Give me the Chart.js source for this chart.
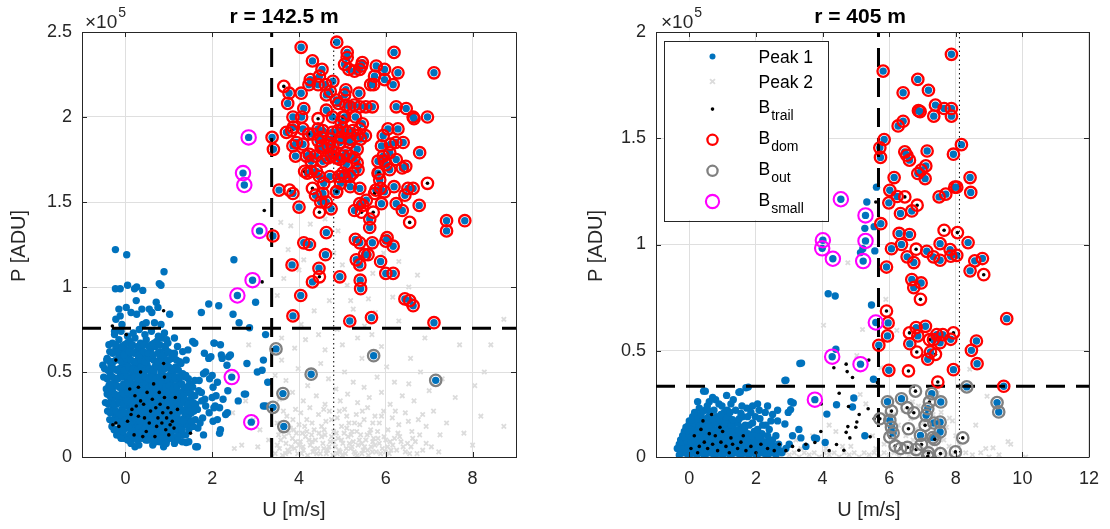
<!DOCTYPE html>
<html lang="en">
<head>
<meta charset="UTF-8">
<title>Peak classes vs wind speed</title>
<script src="https://cdn.jsdelivr.net/npm/chart.js@4.4.0/dist/chart.umd.min.js"></script>
<style>
  body { margin: 0; background: #fff; overflow: hidden; }
  #wrap { position: relative; width: 1110px; height: 529px; }
  .panel { position: absolute; top: 0; width: 555px; height: 529px; }
</style>
</head>
<body>
<div id="wrap">
  <div class="panel" style="left:0"><canvas id="leftChart" width="555" height="529"></canvas></div>
  <div class="panel" style="left:555px"><canvas id="rightChart" width="555" height="529"></canvas></div>
</div>

<script>
// ---------- r = 142.5 m ----------  values are [U (m/s), P (x1e5 ADU)]
const xTicksL = [0, 2, 4, 6, 8];
const yTicksL = [0, 0.5, 1, 1.5, 2, 2.5];
const uCutL = 3.37, pCutL = 0.757, uDotL = 4.8;

const peak1CloudL = [
  [0.12,0.09],[0.31,0.07],[0.47,0.1],[0.63,0.07],[0.79,0.09],[0.96,0.1],[1.13,0.08],[1.31,0.09],[-0.04,0.11],[0.56,0.12],[0.22,0.06],[0.88,0.06],
  [-0.16,0.13],[0.01,0.12],[0.12,0.14],[0.23,0.11],[0.34,0.13],[0.41,0.12],[0.51,0.14],[0.59,0.11],[0.67,0.13],[0.74,0.12],[0.83,0.14],[0.91,0.11],
  [0.99,0.13],[1.06,0.15],[1.16,0.12],[1.25,0.14],[1.39,0.13],[0.27,0.15],[0.71,0.15],[-0.07,0.15],
  [-0.31,0.18],[-0.21,0.16],[-0.11,0.19],[-0.02,0.17],[0.06,0.2],[0.14,0.16],[0.2,0.18],[0.28,0.19],[0.35,0.16],[0.42,0.18],[0.49,0.2],[0.55,0.17],
  [0.61,0.19],[0.68,0.16],[0.75,0.18],[0.83,0.2],[0.9,0.17],[0.96,0.19],[1.03,0.16],[1.1,0.18],[1.18,0.2],[1.26,0.17],[1.35,0.19],[1.46,0.16],
  [1.56,0.18],[0.38,0.2],[0.72,0.2],[1.0,0.21],
  [-0.36,0.22],[-0.23,0.24],[-0.12,0.21],[-0.04,0.23],[0.04,0.25],[0.11,0.22],[0.18,0.24],[0.25,0.21],[0.31,0.23],[0.37,0.25],[0.44,0.22],[0.5,0.24],
  [0.57,0.21],[0.63,0.23],[0.7,0.25],[0.77,0.22],[0.84,0.24],[0.9,0.21],[0.97,0.23],[1.04,0.25],[1.11,0.22],[1.19,0.24],[1.27,0.21],[1.36,0.23],
  [1.47,0.25],[1.61,0.22],[0.08,0.21],[0.6,0.26],[0.93,0.26],
  [-0.41,0.27],[-0.28,0.29],[-0.17,0.26],[-0.08,0.28],[0.0,0.3],[0.07,0.26],[0.14,0.28],[0.21,0.3],[0.28,0.27],[0.34,0.29],[0.41,0.26],[0.47,0.28],
  [0.54,0.3],[0.6,0.27],[0.67,0.29],[0.73,0.26],[0.8,0.28],[0.87,0.3],[0.94,0.27],[1.01,0.29],[1.08,0.26],[1.16,0.28],[1.24,0.3],[1.32,0.27],
  [1.42,0.29],[1.52,0.26],[1.66,0.28],[0.5,0.25],[0.24,0.26],
  [-0.46,0.32],[-0.32,0.34],[-0.2,0.31],[-0.1,0.33],[-0.01,0.35],[0.08,0.31],[0.16,0.33],[0.23,0.35],[0.3,0.32],[0.38,0.34],[0.45,0.31],[0.52,0.33],
  [0.58,0.35],[0.65,0.32],[0.72,0.34],[0.79,0.31],[0.86,0.33],[0.93,0.35],[1.0,0.32],[1.07,0.34],[1.15,0.31],[1.23,0.33],[1.31,0.35],[1.4,0.32],
  [1.5,0.34],[1.62,0.31],[1.76,0.33],
  [-0.42,0.37],[-0.3,0.39],[-0.18,0.36],[-0.08,0.38],[0.02,0.4],[0.1,0.36],[0.18,0.38],[0.26,0.4],[0.33,0.37],[0.4,0.39],[0.48,0.36],[0.55,0.38],
  [0.62,0.4],[0.69,0.37],[0.76,0.39],[0.83,0.36],[0.9,0.38],[0.98,0.4],[1.06,0.37],[1.14,0.39],[1.22,0.36],[1.3,0.38],[1.4,0.4],[1.52,0.37],[1.69,0.39],
  [-0.38,0.42],[-0.25,0.44],[-0.14,0.41],[-0.04,0.43],[0.05,0.45],[0.13,0.41],[0.21,0.43],[0.29,0.45],[0.36,0.42],[0.44,0.44],[0.51,0.41],[0.58,0.43],
  [0.66,0.45],[0.73,0.42],[0.81,0.44],[0.89,0.41],[0.97,0.43],[1.05,0.45],[1.14,0.42],[1.24,0.44],[1.35,0.41],[1.48,0.43],[1.6,0.45],
  [-0.5,0.47],[-0.35,0.49],[-0.22,0.46],[-0.12,0.48],[-0.02,0.5],[0.08,0.46],[0.17,0.48],[0.26,0.5],[0.34,0.47],[0.42,0.49],[0.5,0.46],[0.58,0.48],
  [0.66,0.5],[0.74,0.47],[0.83,0.49],[0.92,0.46],[1.01,0.48],[1.1,0.5],[1.2,0.47],[1.32,0.49],[1.45,0.46],
  [-0.48,0.52],[-0.33,0.54],[-0.2,0.51],[-0.08,0.53],[0.03,0.55],[0.13,0.51],[0.23,0.53],[0.32,0.55],[0.41,0.52],[0.5,0.54],[0.59,0.51],[0.68,0.53],
  [0.77,0.55],[0.86,0.52],[0.95,0.54],[1.05,0.51],[1.16,0.53],[1.28,0.55],
  [-0.42,0.58],[-0.28,0.56],[-0.15,0.59],[-0.03,0.57],[0.08,0.6],[0.19,0.56],[0.3,0.58],[0.4,0.6],[0.5,0.57],[0.6,0.59],[0.7,0.56],[0.8,0.58],
  [0.9,0.6],[1.0,0.57],[1.12,0.59],[1.25,0.56],
  [-0.36,0.62],[-0.22,0.64],[-0.1,0.61],[0.02,0.63],[0.14,0.65],[0.25,0.62],[0.36,0.64],[0.47,0.61],[0.58,0.63],[0.69,0.65],[0.8,0.62],[0.92,0.64],[1.05,0.61],
  [-0.3,0.67],[-0.15,0.69],[-0.02,0.66],[0.1,0.68],[0.22,0.7],[0.35,0.67],[0.48,0.69],[0.6,0.66],[0.72,0.68],[0.85,0.7],[0.98,0.67],
  [-0.25,0.72],[-0.1,0.74],[0.05,0.71],[0.18,0.73],[0.32,0.75],[0.45,0.72],[0.6,0.74],[0.76,0.71],[0.9,0.73],
  [-0.27,0.35],[-0.36,0.43],[-0.3,0.27],[-0.2,0.13],[1.3,0.13],[1.45,0.22],[1.55,0.3],[1.38,0.47],[1.2,0.65],[0.95,0.69],[0.13,0.08],[0.7,0.09]
];
// densest part of the low-speed cluster
const peak1CoreL = [
  [-0.1,0.11],[0.05,0.1],[0.17,0.12],[0.28,0.1],[0.38,0.11],[0.52,0.1],[0.66,0.1],[0.8,0.12],[0.94,0.08],[1.06,0.11],[1.21,0.1],
  [-0.26,0.16],[-0.14,0.17],[-0.05,0.15],[0.09,0.17],[0.19,0.15],[0.31,0.17],[0.39,0.15],[0.46,0.17],[0.58,0.15],[0.65,0.18],[0.78,0.16],[0.87,0.15],[0.99,0.17],[1.14,0.16],[1.3,0.16],[1.42,0.19],
  [-0.3,0.21],[-0.17,0.22],[-0.07,0.2],[0.01,0.22],[0.15,0.21],[0.22,0.23],[0.34,0.21],[0.41,0.23],[0.53,0.22],[0.66,0.21],[0.74,0.23],[0.87,0.22],[1.0,0.23],[1.08,0.2],[1.23,0.22],[1.33,0.21],[1.52,0.21],
  [-0.35,0.26],[-0.22,0.27],[-0.12,0.25],[-0.03,0.26],[0.1,0.27],[0.17,0.25],[0.31,0.26],[0.37,0.28],[0.44,0.27],[0.57,0.26],[0.64,0.27],[0.77,0.26],[0.84,0.27],[0.97,0.25],[1.05,0.28],[1.2,0.26],[1.28,0.28],[1.37,0.26],[1.47,0.27],[1.58,0.27],
  [-0.39,0.31],[-0.26,0.31],[-0.15,0.33],[-0.05,0.31],[0.04,0.33],[0.12,0.32],[0.19,0.31],[0.27,0.33],[0.34,0.31],[0.42,0.33],[0.49,0.32],[0.55,0.31],[0.62,0.33],[0.69,0.31],[0.76,0.33],[0.83,0.32],[0.9,0.31],[0.97,0.33],[1.04,0.31],[1.11,0.33],[1.19,0.32],[1.27,0.31],[1.36,0.33],[1.45,0.31],[1.56,0.32],
  [-0.36,0.36],[-0.24,0.37],[-0.13,0.36],[-0.03,0.37],[0.06,0.38],[0.14,0.37],[0.22,0.37],[0.3,0.36],[0.37,0.38],[0.44,0.37],[0.52,0.37],[0.59,0.36],[0.66,0.38],[0.73,0.36],[0.8,0.38],[0.87,0.37],[0.94,0.36],[1.02,0.38],[1.1,0.36],[1.18,0.38],[1.26,0.37],[1.35,0.36],[1.46,0.38],[1.6,0.36],
  [-0.44,0.4],[-0.32,0.41],[-0.2,0.42],[-0.1,0.41],[0.0,0.42],[0.09,0.43],[0.17,0.41],[0.25,0.42],[0.32,0.4],[0.4,0.42],[0.47,0.43],[0.55,0.41],[0.62,0.42],[0.7,0.4],[0.77,0.42],[0.85,0.43],[0.93,0.41],[1.01,0.42],[1.1,0.4],[1.19,0.41],[1.3,0.43],[1.42,0.41],[1.55,0.41],
  [-0.42,0.46],[-0.29,0.47],[-0.17,0.46],[-0.07,0.47],[0.03,0.48],[0.12,0.46],[0.21,0.47],[0.3,0.46],[0.38,0.48],[0.46,0.47],[0.54,0.46],[0.62,0.47],[0.7,0.46],[0.79,0.47],[0.88,0.48],[0.97,0.46],[1.06,0.47],[1.15,0.46],[1.26,0.47],[1.39,0.48],
  [-0.4,0.51],[-0.27,0.52],[-0.14,0.52],[-0.02,0.51],[0.08,0.53],[0.18,0.52],[0.28,0.51],[0.37,0.53],[0.46,0.51],[0.55,0.52],[0.64,0.51],[0.73,0.53],[0.82,0.51],[0.91,0.52],[1.0,0.53],[1.1,0.52],[1.22,0.51],
  [-0.35,0.56],[-0.22,0.57],[-0.09,0.56],[0.02,0.58],[0.13,0.57],[0.24,0.56],[0.35,0.57],[0.45,0.56],[0.55,0.58],[0.65,0.57],[0.75,0.56],[0.85,0.57],[0.95,0.56],[1.06,0.58],[1.18,0.57],
  [-0.29,0.61],[-0.16,0.62],[-0.04,0.6],[0.08,0.62],[0.2,0.61],[0.31,0.6],[0.42,0.62],[0.53,0.61],[0.64,0.6],[0.75,0.61],[0.86,0.6],[0.98,0.62],
  [-0.22,0.66],[-0.08,0.65],[0.04,0.67],[0.16,0.66],[0.29,0.65],[0.42,0.66],[0.54,0.65],[0.66,0.67],[0.79,0.66],[0.91,0.65]
];
const peak1ScatterL = [
  [-0.23,1.22],[0.03,1.19],[0.89,1.09],[0.82,1.01],[-0.23,0.99],[-0.12,0.99],[0.05,1.01],[0.21,0.99],[0.26,1.0],[0.78,1.02],[0.4,0.98],
  [-0.15,0.87],[-0.12,0.83],[-0.22,0.81],[0.02,0.88],[0.13,0.85],[0.25,0.92],[0.26,0.84],[0.38,0.87],[0.55,0.87],[0.61,0.85],[0.71,0.91],
  [0.75,0.88],[1.02,0.84],[0.4,0.78],[0.48,0.79],[0.67,0.79],[0.82,0.78],[-0.08,0.78],[-0.25,0.74],[-0.38,0.66],[-0.43,0.57],[-0.52,0.54],
  [1.55,0.68],[1.59,0.67],[1.44,0.63],[1.13,0.61],[1.32,0.62],[1.13,0.7],[1.4,0.57],[2.04,0.67],[2.21,0.6],[2.38,0.59],[1.92,0.58],[1.8,0.49],
  [1.94,0.46],[2.02,0.41],[2.09,0.36],[2.17,0.29],[2.04,0.29],[2.31,0.25],[2.17,0.14],[1.4,0.085],[1.62,0.06],
  [1.75,0.85],[1.92,0.9],[2.15,0.89],[2.48,0.84],[2.62,0.79],[3.0,0.91],[2.5,1.16],[3.15,0.51],[3.18,0.57],[2.77,0.37],[3.18,0.3],[2.36,0.39],
  [2.25,0.34],[1.78,0.23],[2.02,0.21],[1.67,0.17],[1.72,0.2],[1.85,0.3],
  [2.86,0.76],[3.23,0.72],[3.04,0.5],[3.28,0.44],[3.23,0.3],[2.8,0.55],[2.74,0.37],[2.42,0.6],[2.19,0.66],[2.05,0.67],[1.82,0.61],[1.97,0.59],
  [2.23,0.58],[2.34,0.54],[1.85,0.5],[2.0,0.48],[2.12,0.44],[2.0,0.35],[2.07,0.3],[2.12,0.22],[2.19,0.16],[1.93,0.26],[1.83,0.34],[2.35,0.26],
  [2.6,0.33],[1.66,0.06],[1.46,0.09],[1.6,0.67],[1.7,0.45],[1.75,0.38],[1.8,0.13]
];
const trailL = [
  [-0.3,0.77],[0.02,0.72],[0.88,0.86],[3.2,1.45],[3.15,1.03],[1.5,0.14],[-0.29,0.19],[-0.22,0.2],[-0.15,0.18],[0.05,0.21],[0.13,0.25],[0.15,0.28],
  [0.25,0.3],[0.3,0.24],[0.22,0.36],[0.3,0.41],[0.35,0.33],[0.42,0.31],[0.44,0.23],[0.5,0.38],[0.55,0.2],[0.58,0.27],[0.62,0.34],[0.65,0.43],
  [0.7,0.29],[0.72,0.18],[0.75,0.23],[0.78,0.38],[0.8,0.31],[0.84,0.2],[0.86,0.26],[0.9,0.35],[0.9,0.47],[0.93,0.16],[0.95,0.23],[0.98,0.29],
  [1.0,0.13],[1.03,0.19],[1.05,0.26],[1.08,0.21],[1.12,0.17],[1.15,0.35],[0.48,0.15],[0.4,0.12],[0.2,0.13],[0.1,0.4],[0.35,0.5],[0.68,0.12],
  [0.88,0.55],[1.2,0.28],[-0.22,0.57]
];
const domBlueL = [
  [4.05,2.41],[4.87,2.44],[5.11,2.38],[5.11,2.35],[5.05,2.31],[5.15,2.28],[5.28,2.27],[5.4,2.28],[5.46,2.32],[5.44,2.3],[4.31,2.33],[4.53,2.28],
  [4.47,2.24],[4.26,2.22],[4.23,2.19],[4.44,2.19],[4.61,2.19],[4.78,2.21],[4.72,2.15],[4.63,2.13],[4.05,2.14],[3.77,2.14],[3.74,2.08],[5.08,2.16],
  [5.05,2.13],[5.38,2.14],[5.65,2.19],[5.72,2.19],[5.78,2.3],[5.97,2.28],[5.74,2.24],[5.97,2.22],[6.17,2.19],[6.19,2.38],[6.28,2.26],[7.11,2.26],
  [6.24,2.06],[6.47,2.05],[6.63,2.0],[6.65,1.99],[6.96,2.0],[4.86,2.1],[4.91,2.08],[5.08,2.07],[5.17,2.06],[5.27,2.07],[5.4,2.06],[5.54,2.06],
  [5.69,2.06],[4.11,2.05],[3.86,2.0],[4.06,2.0],[4.44,1.93],[4.63,2.04],[4.77,2.0],[5.05,2.0],[5.3,2.0],[3.87,1.94],[3.71,1.91],[3.38,1.88],
  [3.41,1.81],[4.23,1.9],[4.55,1.92],[4.77,1.91],[5.11,1.91],[5.24,1.92],[5.34,1.89],[5.53,1.89],[5.42,1.87],[5.17,1.87],[4.97,1.88],[4.94,1.85],
  [5.17,1.85],[5.34,1.81],[5.08,1.79],[4.78,1.83],[4.67,1.83],[4.8,1.79],[4.51,1.82],[4.44,1.86],[4.09,1.84],[3.94,1.85],[3.86,1.83],[4.17,1.77],
  [4.24,1.78],[3.92,1.77],[4.28,1.74],[4.38,1.77],[4.55,1.74],[4.67,1.76],[4.74,1.77],[4.86,1.76],[4.94,1.75],[5.01,1.77],[5.09,1.72],[5.17,1.77],
  [5.27,1.76],[5.34,1.73],[5.36,1.69],[5.24,1.67],[5.17,1.65],[4.92,1.65],[5.01,1.67],[4.71,1.65],[4.57,1.61],[4.86,1.56],[5.18,1.59],[5.4,1.58],
  [4.47,1.65],[4.4,1.68],[4.28,1.68],[4.19,1.67],[4.38,1.54],[4.5,1.5],[4.63,1.5],[4.74,1.46],[4.63,1.32],[4.94,1.06],[5.17,0.8],[5.67,0.82],
  [5.41,1.04],[5.42,0.99],[5.51,1.19],[5.59,1.19],[5.32,1.16],[5.4,1.13],[5.3,1.28],[5.4,1.26],[5.69,1.26],[5.88,1.15],[6.0,1.08],[6.17,1.08],
  [6.0,1.27],[6.03,1.29],[6.17,1.24],[6.44,0.93],[6.55,0.92],[6.63,0.89],[7.11,0.79],[7.4,1.39],[7.4,1.33],[7.82,1.39],[4.61,1.19],[4.46,1.11],
  [4.31,1.03],[4.04,0.95],[3.86,0.83],[3.84,1.13],[4.11,1.26],[4.24,1.25],[3.4,1.3],[3.54,1.57],[3.86,1.55],[4.0,1.47],[5.05,1.65],[5.4,1.49],
  [5.28,1.45],[5.47,1.48],[5.55,1.51],[5.63,1.4],[5.63,1.35],[5.9,1.49],[5.77,1.57],[5.88,1.58],[5.97,1.56],[6.19,1.59],[6.44,1.54],[6.51,1.58],
  [6.63,1.58],[6.77,1.48],[6.24,1.49],[6.38,1.45],[6.09,1.69],[5.82,1.67],[5.86,1.63],[5.82,1.74],[5.97,1.74],[6.01,1.72],[6.24,1.75],[6.46,1.71],
  [6.38,1.7],[6.78,1.79],[5.9,1.83],[5.94,1.89],[6.05,1.93],[6.28,1.93],[6.4,1.85],[6.23,1.85],[6.11,1.84],[6.09,1.79],[5.94,1.77],[4.97,1.97],
  [4.9,1.92],[4.54,1.83],[4.51,1.88],[4.32,1.9],[4.09,1.93],[4.73,1.87],[4.55,1.55],[4.96,1.61],[5.01,1.93],[5.46,1.96]
];
const domTrailL = [
  [3.65,2.18],[4.44,1.99],[5.01,2.0],[3.83,1.92],[5.4,1.93],[4.13,1.68],[4.31,1.58],[4.47,1.44],[4.47,1.06],[3.78,1.57],[4.87,1.56],
  [5.44,1.44],[5.71,1.44],[5.74,1.55],[6.96,1.61],[6.55,1.38],[4.22,1.9],[5.84,1.67]
];
const outBlueL = [[3.47,0.636],[4.28,0.487],[3.63,0.373],[3.4,0.292],[3.65,0.179],[5.72,0.596],[7.15,0.451]];
const outTrailL = [];
const smallL = [[2.84,1.88],[2.71,1.67],[2.74,1.6],[3.09,1.33],[2.93,1.04],[2.58,0.95],[2.45,0.47],[2.9,0.205]];
const peak2L = [
  [3.45,0.02],[3.55,0.05],[3.62,0.01],[3.7,0.08],[3.78,0.03],[3.85,0.11],[3.9,0.05],[3.97,0.02],[4.03,0.09],[4.1,0.04],[4.15,0.12],[4.2,0.01],
  [4.26,0.07],[4.32,0.03],[4.38,0.1],[4.43,0.05],[4.49,0.02],[4.55,0.08],[4.6,0.13],[4.66,0.04],[4.72,0.09],[4.78,0.01],[4.84,0.06],[4.9,0.11],
  [4.95,0.03],[5.01,0.08],[5.07,0.02],[5.13,0.12],[5.19,0.05],[5.25,0.09],[5.3,0.02],[5.36,0.07],[5.42,0.13],[5.48,0.04],[5.54,0.1],[5.6,0.01],
  [5.66,0.06],[5.72,0.11],[5.78,0.03],[5.85,0.08],[5.92,0.05],[6.0,0.1],[6.08,0.02],[6.16,0.07],[6.25,0.04],[6.35,0.09],[6.45,0.03],[6.58,0.06],
  [6.72,0.02],[6.93,0.08],[7.22,0.03],[8.0,0.07],
  [3.5,0.07],[3.66,0.12],[3.82,0.06],[3.94,0.14],[4.06,0.02],[4.23,0.1],[4.35,0.05],[4.52,0.12],[4.63,0.02],[4.8,0.09],[4.92,0.04],[5.04,0.14],
  [5.16,0.08],[5.27,0.03],[5.39,0.1],[5.51,0.06],[5.63,0.14],[5.75,0.07],[5.88,0.02],[6.04,0.06],[6.2,0.11],[6.4,0.06],[6.62,0.11],[6.85,0.04],
  [3.58,0.1],[3.74,0.04],[3.88,0.16],[4.0,0.07],[4.13,0.18],[4.29,0.13],[4.41,0.02],[4.58,0.16],[4.69,0.06],[4.86,0.14],[5.0,0.01],[5.1,0.17],
  [5.22,0.06],[5.33,0.15],[5.45,0.02],[5.57,0.13],[5.69,0.03],[5.81,0.15],[5.96,0.12],[6.12,0.04],[6.28,0.14],[6.5,0.08],[6.78,0.13],[7.05,0.06],
  [3.53,0.13],[3.69,0.02],[3.76,0.14],[3.92,0.09],[4.09,0.06],[4.18,0.15],[4.3,0.09],[4.46,0.14],[4.57,0.05],[4.75,0.12],[4.88,0.02],[4.98,0.1],
  [5.09,0.05],[5.2,0.13],[5.34,0.01],[5.45,0.08],[5.58,0.04],[5.7,0.09],[5.82,0.11],[5.99,0.03],[6.1,0.09],[6.32,0.12],[6.55,0.02],[6.68,0.09],
  [3.5,0.2],[3.58,0.15],[3.72,0.24],[3.8,0.17],[3.92,0.28],[4.0,0.19],[4.08,0.14],[4.18,0.22],[4.25,0.29],[4.35,0.16],[4.45,0.25],[4.52,0.18],
  [4.62,0.21],[4.7,0.27],[4.8,0.15],[4.88,0.23],[4.98,0.18],[5.05,0.28],[5.15,0.2],[5.22,0.15],[5.32,0.25],[5.4,0.19],[5.5,0.22],[5.58,0.29],
  [5.65,0.16],[5.75,0.24],[5.85,0.2],[5.95,0.27],[6.05,0.16],[6.15,0.23],[6.3,0.19],[6.45,0.26],[6.6,0.15],[6.75,0.22],[6.93,0.18],[7.1,0.27],
  [7.4,0.2],[7.8,0.14],[8.19,0.24],[8.72,0.18],[3.3,0.1],[3.1,0.16],[2.95,0.22],[2.51,0.05],[2.68,0.07],[2.77,0.33],[2.47,0.26],[3.05,0.06],
  [3.64,0.27],[3.86,0.22],[4.04,0.26],[4.3,0.2],[4.57,0.28],[4.75,0.22],[4.93,0.27],[5.1,0.24],[5.28,0.2],[5.46,0.27],[5.7,0.2],[5.9,0.24],
  [6.22,0.27],[6.52,0.21],[6.85,0.25],[7.25,0.13],
  [3.55,0.34],[3.7,0.45],[3.85,0.38],[3.98,0.52],[4.1,0.33],[4.2,0.42],[4.4,0.36],[4.5,0.55],[4.6,0.31],[4.68,0.46],[4.85,0.4],[4.95,0.33],
  [5.05,0.5],[5.12,0.37],[5.25,0.44],[5.35,0.32],[5.45,0.58],[5.5,0.41],[5.62,0.35],[5.8,0.47],[5.9,0.38],[6.02,0.53],[6.1,0.31],[6.2,0.44],
  [6.38,0.36],[6.53,0.43],[6.57,0.58],[6.65,0.33],[6.8,0.5],[7.0,0.39],[7.3,0.46],[7.6,0.35],[8.27,0.5],[8.05,0.42],[3.45,0.48],[3.6,0.57],
  [3.6,0.7],[3.9,0.64],[4.05,0.78],[4.15,0.69],[4.35,0.86],[4.45,0.72],[4.6,0.63],[4.7,0.92],[4.88,0.75],[5.0,0.66],[5.11,1.01],[5.19,0.92],
  [5.25,0.87],[5.35,0.7],[5.51,0.77],[5.68,0.72],[5.76,0.85],[5.6,0.93],[5.9,0.65],[6.16,0.94],[6.3,0.8],[6.53,1.0],[6.73,1.07],[6.9,0.7],
  [7.7,0.66],[8.42,0.66],[8.72,0.81],[2.84,0.66],[3.5,0.95],
  [3.58,1.38],[3.81,1.36],[4.26,1.37],[4.11,1.16],[4.0,1.1],[4.35,1.25],[4.6,1.4],[4.8,1.2],[4.9,1.33],[5.0,1.13],[5.7,1.08],[5.95,1.2],
  [6.3,1.15],[3.75,1.22],[3.65,1.05]
];

// ---------- r = 405 m ----------
const xTicksR = [0, 2, 4, 6, 8, 10, 12];
const yTicksR = [0, 0.5, 1, 1.5, 2];
const uCutR = 5.68, pCutR = 0.333, uDotR = 8.11;

const peak1CloudR = [
  [-0.3,0.01],[-0.17,0.02],[-0.04,0.01],[0.09,0.02],[0.22,0.01],[0.35,0.02],[0.48,0.01],[0.61,0.02],[0.74,0.01],[0.87,0.02],[1.0,0.01],[1.13,0.02],
  [1.26,0.01],[1.39,0.02],[1.52,0.01],[1.65,0.02],[1.78,0.01],[1.91,0.02],[2.04,0.01],[2.17,0.02],[2.3,0.01],[2.45,0.02],[2.6,0.01],[2.78,0.02],
  [-0.36,0.04],[-0.23,0.03],[-0.1,0.04],[0.03,0.03],[0.16,0.04],[0.29,0.03],[0.42,0.04],[0.55,0.03],[0.68,0.04],[0.81,0.03],[0.94,0.04],[1.07,0.03],
  [1.2,0.04],[1.33,0.03],[1.46,0.04],[1.59,0.03],[1.72,0.04],[1.85,0.03],[1.98,0.04],[2.11,0.03],[2.25,0.04],[2.4,0.03],[2.55,0.04],[2.72,0.03],[2.9,0.04],
  [-0.3,0.06],[-0.17,0.05],[-0.04,0.06],[0.09,0.05],[0.22,0.06],[0.35,0.05],[0.48,0.06],[0.61,0.05],[0.74,0.06],[0.87,0.05],[1.0,0.06],[1.13,0.05],
  [1.26,0.06],[1.39,0.05],[1.52,0.06],[1.65,0.05],[1.78,0.06],[1.91,0.05],[2.05,0.06],[2.2,0.05],[2.36,0.06],[2.52,0.05],[2.68,0.06],
  [-0.26,0.08],[-0.12,0.07],[0.02,0.08],[0.15,0.07],[0.28,0.08],[0.41,0.07],[0.54,0.08],[0.67,0.07],[0.8,0.08],[0.93,0.07],[1.06,0.08],[1.19,0.07],
  [1.32,0.08],[1.45,0.07],[1.58,0.08],[1.71,0.07],[1.85,0.08],[2.0,0.07],[2.16,0.08],[2.33,0.07],[2.5,0.08],
  [-0.2,0.1],[-0.06,0.09],[0.08,0.1],[0.21,0.09],[0.34,0.1],[0.47,0.09],[0.6,0.1],[0.73,0.09],[0.86,0.1],[0.99,0.09],[1.12,0.1],[1.25,0.09],
  [1.38,0.1],[1.52,0.09],[1.66,0.1],[1.82,0.09],[1.98,0.1],[2.15,0.09],[2.35,0.1],
  [-0.15,0.12],[0.0,0.11],[0.14,0.12],[0.28,0.11],[0.42,0.12],[0.56,0.11],[0.7,0.12],[0.84,0.11],[0.98,0.12],[1.12,0.11],[1.27,0.12],[1.42,0.11],
  [1.58,0.12],[1.76,0.11],[1.95,0.12],[2.18,0.11],
  [-0.1,0.14],[0.06,0.13],[0.22,0.15],[0.38,0.13],[0.53,0.14],[0.68,0.15],[0.84,0.13],[1.0,0.14],[1.17,0.15],[1.35,0.13],[1.55,0.14],[1.8,0.15],[2.05,0.13],
  [0.0,0.17],[0.18,0.19],[0.33,0.16],[0.5,0.18],[0.65,0.17],[0.82,0.19],[1.0,0.17],[1.2,0.18],[1.43,0.16],[1.6,0.19],[1.98,0.19],[2.65,0.17],
  [0.43,0.31],[1.49,0.305],[1.7,0.326],[0.79,0.27],[0.89,0.25],[0.74,0.22],[0.48,0.22],[0.1,0.19],[0.3,0.23],[1.14,0.22],[1.39,0.22],[1.73,0.23],
  [1.9,0.24],[2.28,0.21],[2.5,0.2],[2.87,0.155],[3.05,0.26],[2.97,0.21],[2.87,0.36],[3.32,0.44],[3.29,0.13],[3.35,0.09],[3.76,0.09],[3.5,0.05],
  [3.1,0.1],[3.0,0.06],[0.6,0.26],[1.25,0.25],[0.2,0.2],[2.2,0.15],[2.4,0.13],[2.6,0.1],[1.05,0.21]
];
const peak1CoreR = [
  [-0.24,0.02],[-0.1,0.025],[0.03,0.015],[0.16,0.025],[0.29,0.02],[0.42,0.015],[0.55,0.025],[0.68,0.02],[0.81,0.015],[0.94,0.025],[1.07,0.02],
  [1.2,0.015],[1.33,0.025],[1.46,0.02],[1.59,0.015],[1.72,0.025],[1.85,0.02],[1.98,0.015],[2.11,0.025],[2.24,0.02],[2.38,0.015],[2.52,0.025],
  [-0.3,0.045],[-0.16,0.05],[-0.03,0.045],[0.1,0.05],[0.23,0.045],[0.36,0.05],[0.49,0.045],[0.62,0.05],[0.75,0.045],[0.88,0.05],[1.01,0.045],
  [1.14,0.05],[1.27,0.045],[1.4,0.05],[1.53,0.045],[1.66,0.05],[1.79,0.045],[1.92,0.05],[2.06,0.045],[2.2,0.05],[2.34,0.045],[2.48,0.05],[2.62,0.045],
  [-0.22,0.07],[-0.08,0.075],[0.05,0.07],[0.18,0.075],[0.31,0.07],[0.44,0.075],[0.57,0.07],[0.7,0.075],[0.83,0.07],[0.96,0.075],[1.09,0.07],
  [1.22,0.075],[1.35,0.07],[1.48,0.075],[1.62,0.07],[1.76,0.075],[1.9,0.07],[2.06,0.075],[2.24,0.07],[2.42,0.075],
  [-0.14,0.095],[0.0,0.1],[0.13,0.095],[0.26,0.1],[0.39,0.095],[0.52,0.1],[0.65,0.095],[0.78,0.1],[0.91,0.095],[1.04,0.1],[1.17,0.095],
  [1.3,0.1],[1.45,0.095],[1.6,0.1],[1.75,0.095],[1.9,0.1],[2.08,0.095],
  [-0.05,0.125],[0.1,0.13],[0.25,0.125],[0.4,0.13],[0.55,0.125],[0.7,0.13],[0.85,0.125],[1.0,0.13],[1.15,0.125],[1.3,0.13],[1.48,0.125],[1.66,0.13],
  [-0.02,0.15],[0.14,0.16],[0.3,0.145],[0.45,0.16],[0.6,0.15],[0.76,0.16],[0.92,0.15],[1.08,0.16],[1.26,0.15],[1.45,0.16],[1.68,0.15],[1.9,0.16],[2.3,0.15],
  [0.08,0.175],[0.26,0.18],[0.42,0.175],[0.58,0.19],[0.73,0.18],[0.9,0.175],[1.1,0.19],[1.3,0.175],[1.5,0.18],[1.75,0.19],[2.12,0.18],[2.45,0.17],
  [0.16,0.21],[0.36,0.205],[0.62,0.215],[0.95,0.2],[1.22,0.21],[1.55,0.205],[1.85,0.21],[2.1,0.22],[0.54,0.24],[0.98,0.24],[1.58,0.24],[2.05,0.25],
  [0.25,0.26],[0.7,0.28],[1.32,0.27],[1.12,0.29],[2.35,0.24],[2.65,0.22]
];
const peak1ScatterR = [
  [5.62,1.27],[5.33,1.2],[5.27,1.076],[5.55,1.084],[5.21,0.98],[5.14,0.962],[5.57,0.97],[4.17,0.768],[4.38,0.758],[5.47,0.715],[4.4,0.507],
  [3.37,0.442],[2.9,0.361],[5.53,0.366],[1.77,0.329],[1.53,0.307],[0.48,0.31],[3.12,0.254],[3.04,0.223],[4.13,0.202],[4.42,0.246],[4.9,0.235],
  [4.94,0.278],[3.82,0.087],[4.08,0.068],[5.27,0.1]
];
const trailR = [
  [0.3,0.05],[0.45,0.07],[0.55,0.04],[0.7,0.06],[0.85,0.03],[0.95,0.07],[1.1,0.05],[1.2,0.02],[1.3,0.06],[1.45,0.04],[1.55,0.07],[1.7,0.03],
  [1.85,0.05],[2.0,0.02],[2.15,0.06],[2.35,0.04],[2.55,0.03],[2.7,0.06],[0.41,0.17],[0.67,0.2],[0.15,0.1],[0.6,0.11],[1.0,0.12],[0.25,0.02],
  [0.78,0.1],[0.05,0.04],[1.25,0.09],[1.62,0.1],[2.9,0.03],[3.1,0.05],[0.92,0.14],[0.35,0.13],
  [4.34,0.42],[4.71,0.437],[4.74,0.402],[4.9,0.374],[5.39,0.456],[3.96,0.25],[4.78,0.238],[5.37,0.227],[4.76,0.143],[4.71,0.116],[4.82,0.09],
  [4.42,0.059],[4.64,0.032],[4.2,0.03],[3.77,0.068],[3.29,0.032],[3.5,0.06],[5.0,0.14],[5.66,0.19],[5.6,1.2],[5.65,0.35],[5.55,0.18],
  [5.03,0.165],[5.43,0.095],[5.1,0.2],[3.95,0.12],[4.5,0.3]
];
const domBlueR = [
  [7.87,1.895],[5.82,1.816],[6.86,1.777],[6.42,1.714],[7.18,1.726],[7.39,1.656],[7.65,1.64],[7.87,1.64],[7.87,1.604],[7.34,1.604],[6.93,1.625],
  [6.88,1.63],[6.42,1.58],[6.27,1.558],[5.85,1.494],[5.72,1.455],[5.74,1.41],[6.47,1.436],[6.53,1.42],[6.61,1.397],[7.14,1.44],[8.17,1.47],
  [7.93,1.425],[6.86,1.334],[6.96,1.35],[7.1,1.37],[7.08,1.31],[6.15,1.315],[8.43,1.315],[6.02,1.255],[6.24,1.226],[5.99,1.196],[6.68,1.158],
  [6.34,1.146],[7.5,1.224],[7.7,1.237],[7.97,1.27],[8.03,1.27],[8.45,1.245],[5.75,1.098],[6.3,1.052],[6.61,1.047],[8.37,1.009],[6.07,0.98],
  [6.37,1.0],[6.54,0.942],[6.74,0.915],[7.13,0.968],[7.33,0.942],[7.53,0.926],[7.53,1.004],[7.83,0.976],[7.85,0.945],[8.03,0.949],[8.57,0.923],
  [8.8,0.934],[8.43,0.876],[5.92,0.894],[6.68,0.835],[6.74,0.797],[6.96,0.819],[5.97,0.631],[9.53,0.651],[5.95,0.57],[5.69,0.526],[6.81,0.609],
  [7.09,0.615],[6.86,0.57],[6.62,0.533],[7.33,0.552],[7.43,0.576],[7.61,0.576],[7.53,0.538],[7.85,0.554],[7.24,0.494],[7.16,0.46],[8.62,0.546],
  [8.47,0.502],[8.64,0.439],[5.99,0.408],[7.93,0.411],[9.44,0.333]
];
const domTrailR = [
  [6.47,1.224],[6.84,1.185],[7.65,1.067],[8.05,1.056],[6.81,0.978],[8.84,0.858],[6.94,0.742],[5.92,0.687],[6.61,0.584],[6.83,0.494],
  [7.21,0.552],[7.93,0.584],[7.39,0.483],[6.58,0.405],[7.46,0.353]
];
const outBlueR = [
  [6.37,0.274],[7.28,0.298],[7.55,0.259],[7.16,0.227],[7.11,0.196],[6.02,0.172],[6.07,0.14],[6.12,0.113],[7.34,0.16],[7.53,0.164],[6.94,0.102],
  [7.31,0.091],[7.53,0.118],[9.24,0.256],[9.29,0.212],[8.33,0.33],[5.95,0.26]
];
const outTrailR = [
  [6.79,0.31],[7.21,0.259],[6.07,0.216],[6.54,0.232],[6.74,0.208],[5.72,0.18],[6.58,0.133],[7.08,0.149],[6.02,0.094],[8.21,0.09],[6.55,0.045],
  [6.34,0.04],[6.18,0.052],[6.81,0.035],[6.97,0.059],[7.18,0.019],[7.16,0.003],[7.54,0.016],[7.99,0.024],[7.37,0.083]
];
const smallR = [
  [4.55,1.213],[5.29,1.137],[4.01,1.02],[3.99,0.982],[4.31,0.933],[5.22,0.922],[5.29,1.017],[5.6,0.633],[4.29,0.472],[5.14,0.437],[3.77,0.27]
];
const peak2R = [
  [1.8,0.01],[1.95,0.02],[2.1,0.0],[2.25,0.02],[2.4,0.01],[2.55,0.02],[2.7,0.0],[2.85,0.02],[3.0,0.01],[3.15,0.02],[3.3,0.0],[3.45,0.02],
  [3.6,0.01],[3.75,0.02],[3.9,0.0],[4.05,0.02],[4.2,0.01],[4.35,0.02],[4.5,0.0],[4.65,0.02],[4.8,0.01],[4.95,0.02],[5.1,0.0],[5.25,0.02],
  [5.4,0.01],[5.55,0.02],[5.7,0.0],[5.85,0.02],[6.0,0.01],[6.15,0.02],[6.3,0.0],[6.45,0.02],[6.6,0.01],[6.75,0.02],[6.9,0.0],[7.05,0.02],
  [7.2,0.01],[7.35,0.02],[7.5,0.0],[7.65,0.02],[7.8,0.01],[7.95,0.02],[8.1,0.0],[8.3,0.02],[8.5,0.01],[8.75,0.02],[9.0,0.0],[9.3,0.01],
  [10.1,0.0],[1.3,0.01],[0.9,0.0],[2.6,0.04],[3.35,0.04],[4.1,0.04],[4.85,0.05],[5.6,0.04],
  [5.85,0.06],[5.95,0.12],[6.05,0.04],[6.12,0.2],[6.2,0.08],[6.28,0.15],[6.35,0.06],[6.42,0.22],[6.5,0.1],[6.58,0.05],[6.65,0.18],[6.72,0.08],
  [6.8,0.13],[6.88,0.24],[6.95,0.05],[7.02,0.16],[7.1,0.09],[7.18,0.28],[7.25,0.06],[7.32,0.2],[7.4,0.11],[7.48,0.04],[7.56,0.21],[7.64,0.08],
  [7.72,0.14],[7.8,0.05],[7.9,0.17],[8.0,0.1],[8.1,0.06],[7.81,0.183],[6.0,0.28],[6.7,0.26],[7.45,0.3],[5.9,0.2],[7.05,0.04],[6.25,0.03],
  [4.76,0.914],[4.03,0.62],[6.23,0.596],[5.9,0.742],[5.03,0.477],[5.13,0.294],[8.42,0.413],[8.94,0.286],[9.12,0.043],[9.57,0.072],[9.65,0.06],
  [5.2,0.6],[4.9,0.28],[5.3,0.25],[5.5,0.1],[4.6,0.05],[3.7,0.1],[4.4,0.12],[2.9,0.04],[4.2,0.15],[3.2,0.08],[8.6,0.15],[8.9,0.04],[5.75,0.42]
];

// ---------- styling ----------
const FONT = '"Liberation Sans", Arial, Helvetica, sans-serif';
const AXIS = '#262626';
const GRID = '#dfdfdf';
const style = {
  peak1: { color: '#0072bd', radius: 3.7 },
  peak2: { color: '#dcdcdc', radius: 3.1 },
  trail: { color: '#000000', radius: 1.8 },
  dom:   { color: '#ff0000', radius: 5.7, width: 2.3 },
  out:   { color: '#808080', radius: 5.7, width: 2.3 },
  small: { color: '#ff00ff', radius: 7.2, width: 2.1 }
};
const legendRows = [
  { key: 'peak1', main: 'Peak 1', sub: '' },
  { key: 'peak2', main: 'Peak 2', sub: '' },
  { key: 'trail', main: 'B', sub: 'trail' },
  { key: 'dom',   main: 'B', sub: 'dom' },
  { key: 'out',   main: 'B', sub: 'out' },
  { key: 'small', main: 'B', sub: 'small' }
];

const xy = list => list.map(p => ({ x: p[0], y: p[1] }));

function dotSet(data, s, order) {
  return { data: xy(data), pointStyle: 'circle', pointRadius: s.radius, pointBackgroundColor: s.color,
           pointBorderWidth: 0, order };
}
function ringSet(data, s, order) {
  return { data: xy(data), pointStyle: 'circle', pointRadius: s.radius, pointBackgroundColor: 'rgba(0,0,0,0)',
           pointBorderColor: s.color, pointBorderWidth: s.width, order };
}
function refLine(a, b, width, dash) {
  return { data: [a, b], showLine: true, borderColor: '#000', borderWidth: width, borderDash: dash,
           pointRadius: 0, fill: false, order: 4 };
}

function makeDatasets(p) {
  return [
    { data: xy(p.peak2), pointStyle: 'crossRot', pointRadius: style.peak2.radius, pointBorderColor: style.peak2.color,
      pointBorderWidth: 1.8, order: 7 },
    dotSet(p.peak1, style.peak1, 6),
    dotSet(p.trail, style.trail, 5),
    refLine({ x: p.uCut, y: 0 }, { x: p.uCut, y: p.yMax }, 3, [19, 11]),
    refLine({ x: p.xMin, y: p.pCut }, { x: p.xMax, y: p.pCut }, 3, [19, 11]),
    refLine({ x: p.uDot, y: 0 }, { x: p.uDot, y: p.yMax }, 1, [1.5, 3]),
    ringSet(p.dom, style.dom, 3),
    ringSet(p.out, style.out, 2),
    ringSet(p.small, style.small, 1)
  ];
}

const sharp = v => Math.round(v) + 0.5;

function marker(ctx, key, x, y) {
  const s = style[key];
  ctx.beginPath();
  if (key === 'peak2') {
    ctx.strokeStyle = s.color; ctx.lineWidth = 1.8;
    const r = s.radius * 0.8;
    ctx.moveTo(x - r, y - r); ctx.lineTo(x + r, y + r);
    ctx.moveTo(x - r, y + r); ctx.lineTo(x + r, y - r);
    ctx.stroke();
  } else if (s.width) {
    ctx.strokeStyle = s.color; ctx.lineWidth = s.width;
    ctx.arc(x, y, s.radius - 0.6, 0, Math.PI * 2); ctx.stroke();
  } else {
    ctx.fillStyle = s.color;
    ctx.arc(x, y, key === 'peak1' ? 3 : s.radius, 0, Math.PI * 2); ctx.fill();
  }
}

// frame, inward ticks, title, exponent, axis labels and legend
const panelDecor = {
  id: 'panelDecor',
  afterDraw(chart, args, o) {
    const ctx = chart.ctx, a = chart.chartArea, xs = chart.scales.x, ys = chart.scales.y;
    ctx.save();
    ctx.strokeStyle = AXIS; ctx.lineWidth = 1;
    ctx.beginPath();
    ctx.moveTo(sharp(a.left), sharp(a.top)); ctx.lineTo(sharp(a.right), sharp(a.top)); ctx.lineTo(sharp(a.right), sharp(a.bottom));
    xs.ticks.forEach(t => {
      const x = sharp(xs.getPixelForValue(t.value));
      ctx.moveTo(x, a.bottom); ctx.lineTo(x, a.bottom - 5);
      ctx.moveTo(x, a.top); ctx.lineTo(x, a.top + 5);
    });
    ys.ticks.forEach(t => {
      const y = sharp(ys.getPixelForValue(t.value));
      ctx.moveTo(a.left, y); ctx.lineTo(a.left + 5, y);
      ctx.moveTo(a.right, y); ctx.lineTo(a.right - 5, y);
    });
    ctx.stroke();

    ctx.fillStyle = '#000';
    ctx.font = 'bold 21px ' + FONT;
    ctx.textAlign = 'center'; ctx.textBaseline = 'alphabetic';
    ctx.fillText(o.title, o.titleX, 23);

    ctx.fillStyle = AXIS;
    ctx.textAlign = 'left';
    ctx.font = '19px ' + FONT;
    const ex = a.left + o.expDx;
    ctx.fillText('\u00d710', ex, 28);
    const w = ctx.measureText('\u00d710').width;
    ctx.font = '14px ' + FONT;
    ctx.fillText('5', ex + w + 1, 17);

    ctx.font = '20px ' + FONT;
    ctx.textAlign = 'center';
    ctx.fillText('U [m/s]', o.xLabelX, 516);
    ctx.save();
    ctx.translate(o.yLabelX, 246);
    ctx.rotate(-Math.PI / 2);
    ctx.textBaseline = 'middle';
    ctx.fillText('P [ADU]', 0, 0);
    ctx.restore();

    if (o.legend) {
      const L = o.legend;
      ctx.fillStyle = '#fff';
      ctx.fillRect(L.left, L.top, L.width, L.height);
      ctx.strokeStyle = AXIS; ctx.lineWidth = 1;
      ctx.strokeRect(sharp(L.left), sharp(L.top), Math.round(L.width), Math.round(L.height));
      legendRows.forEach((row, i) => {
        const my = L.top + L.rows[i];
        marker(ctx, row.key, L.left + 48.5, my);
        ctx.fillStyle = '#000';
        ctx.textAlign = 'left'; ctx.textBaseline = 'alphabetic';
        ctx.font = '17.5px ' + FONT;
        const tx = L.left + 94.5;
        if (!row.sub) {
          ctx.fillText(row.main, tx, my + 6.6);
        } else {
          ctx.fillText(row.main, tx, my + 4);
          const bw = ctx.measureText(row.main).width;
          ctx.font = '14px ' + FONT;
          ctx.fillText(row.sub, tx + bw + 1, my + 11);
        }
      });
    }
    ctx.restore();
  }
};

function buildPanel(id, p) {
  return new Chart(document.getElementById(id), {
    type: 'scatter',
    data: { datasets: makeDatasets(p) },
    options: {
      responsive: false,
      animation: false,
      events: [],
      layout: { padding: p.pad },
      plugins: {
        legend: { display: false },
        tooltip: { enabled: false },
        panelDecor: p.decor
      },
      scales: {
        x: {
          type: 'linear', min: p.xMin, max: p.xMax,
          afterBuildTicks: s => { s.ticks = p.xTicks.map(v => ({ value: v })); },
          afterFit: s => { s.height = 72; },
          grid: { color: GRID, drawTicks: false },
          border: { display: true, color: AXIS, width: 1 },
          ticks: { autoSkip: false, maxRotation: 0, padding: 11, color: AXIS,
                   font: { family: FONT, size: 18 }, callback: v => String(v) }
        },
        y: {
          type: 'linear', min: 0, max: p.yMax,
          afterBuildTicks: s => { s.ticks = p.yTicks.map(v => ({ value: v })); },
          afterFit: s => { s.width = p.yAxisW; },
          grid: { color: GRID, drawTicks: false },
          border: { display: true, color: AXIS, width: 1 },
          ticks: { autoSkip: false, padding: 10, color: AXIS,
                   font: { family: FONT, size: 18 }, callback: v => String(v) }
        }
      }
    },
    plugins: [panelDecor]
  });
}

buildPanel('leftChart', {
  xMin: -1, xMax: 9, yMax: 2.5, xTicks: xTicksL, yTicks: yTicksL,
  uCut: uCutL, pCut: pCutL, uDot: uDotL,
  peak1: peak1CloudL.concat(peak1CoreL, peak1ScatterL, domBlueL, outBlueL, smallL),
  peak2: peak2L,
  trail: trailL.concat(domTrailL, outTrailL),
  dom: domBlueL.concat(domTrailL),
  out: outBlueL.concat(outTrailL),
  small: smallL,
  pad: { top: 32, right: 39, bottom: 0, left: 0 },
  yAxisW: 82,
  decor: { title: 'r = 142.5 m', titleX: 284, xLabelX: 294, yLabelX: 19, expDx: 3 }
});

buildPanel('rightChart', {
  xMin: -1, xMax: 12, yMax: 2, xTicks: xTicksR, yTicks: yTicksR,
  uCut: uCutR, pCut: pCutR, uDot: uDotR,
  peak1: peak1CloudR.concat(peak1CoreR, peak1ScatterR, domBlueR, outBlueR, smallR),
  peak2: peak2R,
  trail: trailR.concat(domTrailR, outTrailR),
  dom: domBlueR.concat(domTrailR),
  out: outBlueR.concat(outTrailR),
  small: smallR,
  pad: { top: 32, right: 18, bottom: 0, left: 0 },
  yAxisW: 101,
  decor: {
    title: 'r = 405 m', titleX: 305, xLabelX: 314, yLabelX: 41, expDx: 5,
    legend: { left: 109, top: 40.5, width: 164, height: 179.5,
              rows: [16, 41, 68.6, 99.3, 130.3, 161] }
  }
});
</script>
</body>
</html>
